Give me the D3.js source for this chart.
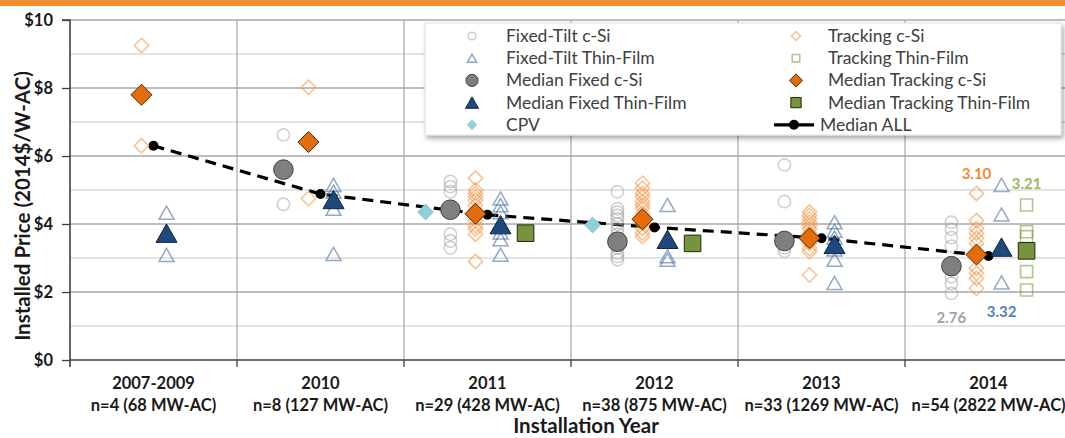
<!DOCTYPE html>
<html><head><meta charset="utf-8">
<script src="https://cdn.jsdelivr.net/npm/d3@7/dist/d3.min.js"></script>
<style>
body{margin:0;background:#fff}
svg{display:block}
text{font-family:Lato,"Open Sans","DejaVu Sans",sans-serif}
</style>
</head><body>
<svg id="chart" width="1065" height="438"></svg>
<script>
// ---------------- DATA ----------------
const categories = ["2007-2009","2010","2011","2012","2013","2014"];
const categorySubLabels = ["n=4 (68 MW-AC)","n=8 (127 MW-AC)","n=29 (428 MW-AC)","n=38 (875 MW-AC)","n=33 (1269 MW-AC)","n=54 (2822 MW-AC)"];
const yTickValues = [0,2,4,6,8,10];
const yTickLabels = ["$0","$2","$4","$6","$8","$10"];

const fixedCSi = [
  [],
  [6.62,4.58],
  [5.25,5.1,4.95,3.7,3.5,3.3],
  [4.95,4.45,4.35,4.25,4.15,4.0,3.85,3.7,3.45,3.3,3.15,3.05,2.95],
  [5.74,4.66,3.6,3.45,3.3,3.2],
  [4.05,3.85,3.6,3.35,2.75,2.45,2.25,1.96]
];
const fixedThinFilm = [
  [4.33,3.09],
  [5.15,4.95,4.45,3.12],
  [4.75,4.55,4.35,3.95,3.75,3.55,3.1],
  [4.56,3.05,2.95],
  [4.05,3.8,3.6,3.25,2.95,2.27],
  [5.15,4.28,2.28]
];
const trackingCSi = [
  [9.25,6.3],
  [8.02,4.75],
  [5.35,5.0,4.9,4.8,4.7,4.55,4.4,4.25,4.1,3.95,3.85,3.7,2.9],
  [5.2,5.05,4.9,4.8,4.66,4.56,4.46,4.31,4.17,4.02,3.87,3.73,3.63],
  [4.35,4.25,4.15,4.05,3.95,3.85,3.73,3.63,3.43,3.28,3.19,2.5],
  [4.9,4.1,3.87,3.73,3.58,3.43,2.7,2.55,2.4,2.11]
];
const trackingThinFilm = [
  [],[],[],[],[],
  [4.56,3.77,3.63,2.6,2.06]
];
const medianFixedCSi      = [null,5.6,4.42,3.48,3.5,2.76];
const medianFixedThinFilm = [3.73,4.72,3.98,3.55,3.4,3.32];
const medianTrackingCSi   = [7.8,6.41,4.3,4.14,3.58,3.10];
const medianTrackingThinFilm = [null,null,3.73,3.43,null,3.21];
const cpv                 = [null,null,4.35,3.97,null,null];
const medianAll           = [6.3,4.88,4.27,3.9,3.58,3.06];

const dataLabels = [
  {series:"medianTrackingCSi", cat:"2014", text:"3.10"},
  {series:"medianTrackingThinFilm", cat:"2014", text:"3.21"},
  {series:"medianFixedThinFilm", cat:"2014", text:"3.32"},
  {series:"medianFixedCSi", cat:"2014", text:"2.76"}
];

// ---------------- LAYOUT / STYLE ----------------
const svg = d3.select("#chart");
const plotL = 70, plotR = 1072, plotT = 20, plotB = 360;
const x = d3.scaleBand().domain(categories).range([plotL, plotR]).padding(0);
const y = d3.scaleLinear().domain([0,10]).range([plotB, plotT]);
const bw = x.bandwidth();

function shape(kind, s){
  if(kind==="circle") return `M${-s},0A${s},${s} 0 1,0 ${s},0A${s},${s} 0 1,0 ${-s},0Z`;
  if(kind==="diamond") return `M0,${-s}L${s},0L0,${s}L${-s},0Z`;
  if(kind==="square") return `M${-s},${-s}H${s}V${s}H${-s}Z`;
  if(kind==="triangle"){ const h=s*1.75; return `M0,${-h/2}L${s},${h/2}L${-s},${h/2}Z`; }
}

const styles = {
  fixedCSi:      {dx:-0.222, kind:"circle",  s:6.2, fill:"none", stroke:"#a6a6a6", sw:1.5, op:0.55},
  fixedThinFilm: {dx: 0.078, kind:"triangle",s:7.5, fill:"none", stroke:"#4a6fa5", sw:1.5, op:0.6},
  trackingCSi:   {dx:-0.072, kind:"diamond", s:7.2, fill:"none", stroke:"#f79646", sw:1.5, op:0.6},
  trackingThinFilm:{dx:0.228,kind:"square",  s:6,   fill:"none", stroke:"#77933c", sw:1.6, op:0.55},
  medianFixedCSi:{dx:-0.222, kind:"circle",  s:9.8, fill:"#7f7f7f", stroke:"#3f3f3f", sw:1, op:1},
  medianFixedThinFilm:{dx:0.078,kind:"triangle",s:10.5,fill:"#1f497d", stroke:"#10253f", sw:1, op:1},
  cpv:           {dx:-0.371, kind:"diamond", s:8.5, fill:"#92cddc", stroke:"none", sw:0, op:1},
  medianTrackingCSi:{dx:-0.072,kind:"diamond",s:10.5, fill:"#e46c0a", stroke:"#4a2a0a", sw:1, op:1},
  medianTrackingThinFilm:{dx:0.228,kind:"square",s:8.3, fill:"#77933c", stroke:"#1e2a10", sw:1, op:1}
};
const seriesData = {fixedCSi, fixedThinFilm, trackingCSi, trackingThinFilm,
  medianFixedCSi, medianFixedThinFilm, cpv, medianTrackingCSi, medianTrackingThinFilm};

const cx = (cat, dx) => x(cat) + bw/2 + dx*bw;

// Top orange bar
svg.append("rect").attr("x",0).attr("y",0).attr("width",1065).attr("height",6).attr("fill","#f28e2b");

// Gridlines
const grid = svg.append("g");
d3.range(1,11).forEach(v=>{
  grid.append("line").attr("x1",plotL).attr("x2",plotR).attr("y1",y(v)).attr("y2",y(v))
    .attr("stroke", v%2===0 ? "#7f7f7f" : "#c8c8c8").attr("stroke-width",1.2);
});
categories.slice(1).forEach(c=>{
  grid.append("line").attr("x1",x(c)).attr("x2",x(c)).attr("y1",plotT).attr("y2",plotB)
    .attr("stroke","#a6a6a6").attr("stroke-width",1.2);
});

// Axes
const yAxis = d3.axisLeft(y).tickValues(yTickValues).tickFormat((d,i)=>yTickLabels[i]).tickSize(8).tickPadding(9);
const gy = svg.append("g").attr("transform",`translate(${plotL},0)`).call(yAxis);
gy.select(".domain").attr("stroke","#404040").attr("stroke-width",1.6).attr("d",`M-8,${plotT}H0V${plotB+7}`);
gy.selectAll(".tick line").attr("stroke","#404040").attr("stroke-width",1.3);
gy.selectAll(".tick text").attr("font-size",16.5).attr("font-weight","bold").attr("fill","#1a1a1a").attr("font-family","Lato,sans-serif");

const gx = svg.append("g").attr("transform",`translate(0,${plotB})`);
gx.append("line").attr("x1",plotL).attr("x2",plotR).attr("stroke","#404040").attr("stroke-width",1.6);
categories.slice(1).forEach(c=>{
  gx.append("line").attr("x1",x(c)).attr("x2",x(c)).attr("y1",0).attr("y2",7).attr("stroke","#404040").attr("stroke-width",1.3);
});
categories.forEach((c,i)=>{
  const t = gx.append("text").attr("x",x(c)+bw/2).attr("text-anchor","middle")
    .attr("font-size",16.5).attr("font-weight","bold").attr("fill","#1a1a1a");
  t.append("tspan").attr("x",x(c)+bw/2).attr("y",29).text(c);
  t.append("tspan").attr("x",x(c)+bw/2).attr("y",51).text(categorySubLabels[i]);
});

// Axis titles
svg.append("text").attr("transform","translate(30,206) rotate(-90)").attr("text-anchor","middle")
  .attr("font-size",20.5).attr("font-weight","bold").attr("fill","#1a1a1a").text("Installed Price (2014$/W-AC)");
svg.append("text").attr("x",586).attr("y",433).attr("text-anchor","middle")
  .attr("font-size",20.5).attr("font-weight","bold").attr("fill","#1a1a1a").text("Installation Year");

// Median ALL line
const allPts = categories.map((c,i)=>[x(c)+bw/2, y(medianAll[i])]);
svg.append("path").attr("d", d3.line()(allPts)).attr("fill","none").attr("stroke","#000")
  .attr("stroke-width",3.2).attr("stroke-dasharray","11,7");
svg.append("g").selectAll("circle").data(allPts).join("circle")
  .attr("cx",d=>d[0]).attr("cy",d=>d[1]).attr("r",5).attr("fill","#000");

// Markers
const order = ["fixedCSi","fixedThinFilm","trackingCSi","trackingThinFilm","cpv",
  "medianFixedCSi","medianTrackingCSi","medianFixedThinFilm","medianTrackingThinFilm"];
order.forEach(name=>{
  const st = styles[name], arr = seriesData[name];
  const pts = [];
  categories.forEach((c,i)=>{
    const v = arr[i];
    if(Array.isArray(v)) v.forEach(val=>pts.push([c,val]));
    else if(v!=null) pts.push([c,v]);
  });
  svg.append("g").selectAll("path").data(pts).join("path")
    .attr("transform",d=>`translate(${cx(d[0],st.dx)},${y(d[1])})`)
    .attr("d",shape(st.kind, st.s))
    .attr("fill",st.fill).attr("stroke",st.stroke).attr("stroke-width",st.sw)
    .attr("stroke-opacity",st.op);
});

// Data labels
const labelStyle = {
  medianTrackingCSi:{dy:-76, color:"#f28a3a"},
  medianTrackingThinFilm:{dy:-62, color:"#9bbb59"},
  medianFixedThinFilm:{dy:70, color:"#4f81bd"},
  medianFixedCSi:{dy:57, color:"#95a3b3"}
};
dataLabels.forEach(l=>{
  const st = styles[l.series], ls = labelStyle[l.series];
  const i = categories.indexOf(l.cat);
  svg.append("text").attr("x",cx(l.cat,st.dx)).attr("y",y(seriesData[l.series][i])+ls.dy)
    .attr("text-anchor","middle").attr("font-size",15).attr("font-weight","bold")
    .attr("fill",ls.color).text(l.text);
});

// Legend
const defs = svg.append("defs");
const f = defs.append("filter").attr("id","sh").attr("x","-5%").attr("y","-10%").attr("width","115%").attr("height","130%");
f.append("feDropShadow").attr("dx",2).attr("dy",3).attr("stdDeviation",2.5).attr("flood-color","#000").attr("flood-opacity",0.35);
const lg = svg.append("g");
lg.append("rect").attr("x",425).attr("y",23).attr("width",636).attr("height",112)
  .attr("fill","#fff").attr("stroke","#e0e0e0").attr("filter","url(#sh)");
const legendItems = [
  {name:"fixedCSi", label:"Fixed-Tilt c-Si", col:0, row:0},
  {name:"fixedThinFilm", label:"Fixed-Tilt Thin-Film", col:0, row:1},
  {name:"medianFixedCSi", label:"Median Fixed c-Si", col:0, row:2},
  {name:"medianFixedThinFilm", label:"Median Fixed Thin-Film", col:0, row:3},
  {name:"cpv", label:"CPV", col:0, row:4},
  {name:"trackingCSi", label:"Tracking c-Si", col:1, row:0},
  {name:"trackingThinFilm", label:"Tracking Thin-Film", col:1, row:1},
  {name:"medianTrackingCSi", label:"Median Tracking c-Si", col:1, row:2},
  {name:"medianTrackingThinFilm", label:"Median Tracking Thin-Film", col:1, row:3},
  {name:"medianAll", label:"Median ALL", col:1, row:4}
];
const colMarkX = [472, 796], colTextX = [506, 828];
legendItems.forEach(it=>{
  const ly = 36 + it.row*22.2;
  if(it.name==="medianAll"){
    lg.append("line").attr("x1",774).attr("x2",814).attr("y1",ly).attr("y2",ly).attr("stroke","#000").attr("stroke-width",3.2);
    lg.append("circle").attr("cx",794).attr("cy",ly).attr("r",5).attr("fill","#000");
    lg.append("text").attr("x",820).attr("y",ly+6).attr("font-size",17.5).attr("fill","#404040").text(it.label);
    return;
  }
  const st = styles[it.name];
  lg.append("path").attr("transform",`translate(${colMarkX[it.col]},${ly})`)
    .attr("d",shape(st.kind, st.s*0.62)).attr("fill",st.fill).attr("stroke",st.stroke)
    .attr("stroke-width",st.sw).attr("stroke-opacity",st.op);
  lg.append("text").attr("x",colTextX[it.col]).attr("y",ly+6).attr("font-size",17.5).attr("fill","#404040").text(it.label);
});
</script>
</body></html>
